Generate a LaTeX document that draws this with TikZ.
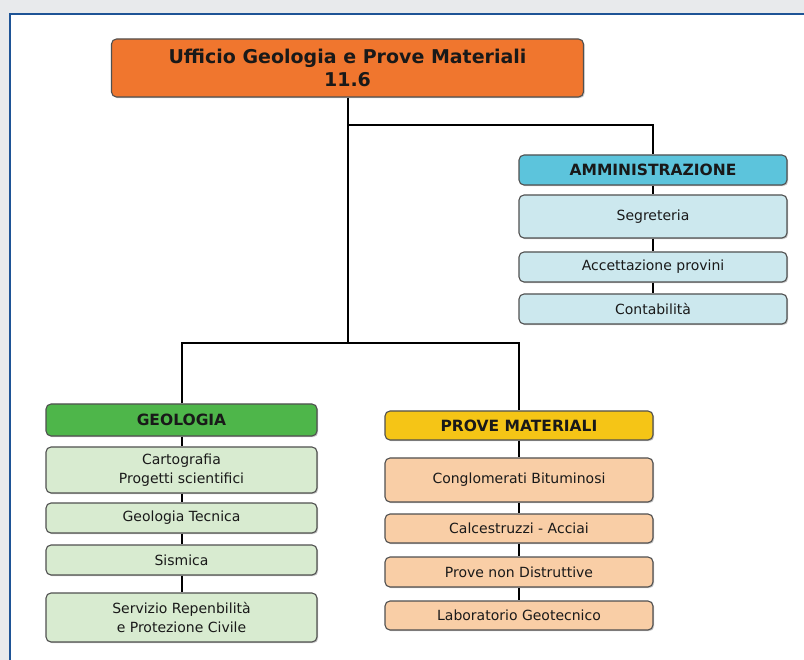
\documentclass[tikz,border=0pt]{standalone}
\usepackage{fontspec}
\setmainfont{DejaVu Sans}
\usetikzlibrary{shadows}

\definecolor{framebg}{RGB}{232,234,236}
\definecolor{frameblue}{RGB}{30,84,150}
\definecolor{uffcol}{RGB}{240,118,46}
\definecolor{ammcol}{RGB}{92,196,220}
\definecolor{ammsub}{RGB}{204,232,238}
\definecolor{geocol}{RGB}{78,182,74}
\definecolor{geosub}{RGB}{216,235,208}
\definecolor{provcol}{RGB}{245,197,22}
\definecolor{provsub}{RGB}{249,206,166}
\definecolor{boxline}{RGB}{80,80,80}

\begin{document}
\begin{tikzpicture}[x=1pt,y=1pt]
        \tikzstyle{every node}+=[inner sep=0pt]
        \tikzstyle{unitbox}=[rectangle, rounded corners=5pt, draw=boxline, line width=1.1pt,
          align=center, text=black!90, drop shadow={shadow xshift=1.2pt,shadow yshift=-1.2pt,fill=black!40}]
        \tikzstyle{headbox}=[unitbox, minimum width=268pt, minimum height=30pt,
          font=\fontsize{15.5}{18}\selectfont\bfseries]
        \tikzstyle{subbox}=[unitbox, minimum width=268pt, minimum height=30pt,
          font=\fontsize{14}{19}\selectfont]
        \tikzstyle{link}=[black, line width=2pt]
        % background and frame
        \useasboundingbox (0,0) rectangle (804,-660);
        \fill [framebg] (0,0) rectangle (804,-660);
        \fill [white] (10,-14) rectangle (804,-660);
        \draw [frameblue, line width=2.5pt] (10,-660) -- (10,-14) -- (804,-14);
        % top unit
        \node [unitbox, fill=uffcol, minimum width=472pt, minimum height=58pt,
          font=\fontsize{19}{23}\selectfont\bfseries] (uff) at (347.5,-68) {Ufficio Geologia e Prove Materiali\\11.6};
        % amministrazione
        \node [headbox, fill=ammcol] (amm) at (653,-170) {AMMINISTRAZIONE};
        \node [subbox, fill=ammsub, minimum height=43pt] (segr) at (653,-216.5) {Segreteria};
        \node [subbox, fill=ammsub] (acc) at (653,-267) {Accettazione provini};
        \node [subbox, fill=ammsub] (cont) at (653,-309) {Contabilità};
        % geologia
        \node [headbox, fill=geocol, minimum width=271pt, minimum height=32pt] (geo) at (181.5,-420) {GEOLOGIA};
        \node [subbox, fill=geosub, minimum width=271pt, minimum height=46pt] (carto) at (181.5,-470) {Cartografia\\Progetti scientifici};
        \node [subbox, fill=geosub, minimum width=271pt] (tecn) at (181.5,-518) {Geologia Tecnica};
        \node [subbox, fill=geosub, minimum width=271pt] (sism) at (181.5,-560) {Sismica};
        \node [subbox, fill=geosub, minimum width=271pt, minimum height=49pt] (serv) at (181.5,-617.5) {Servizio Repenbilità\\e Protezione Civile};
        % prove materiali
        \node [headbox, fill=provcol, minimum height=29pt] (prov) at (519,-425.5) {PROVE MATERIALI};
        \node [subbox, fill=provsub, minimum height=44pt] (cong) at (519,-480) {Conglomerati Bituminosi};
        \node [subbox, fill=provsub, minimum height=29pt] (calc) at (519,-528.5) {Calcestruzzi - Acciai};
        \node [subbox, fill=provsub] (pnd) at (519,-572) {Prove non Distruttive};
        \node [subbox, fill=provsub, minimum height=29pt] (labo) at (519,-615.5) {Laboratorio Geotecnico};
        % connectors
        \coordinate (ammjoin) at (347.5,-125);
        \coordinate (fork) at (347.5,-343);
        \draw [link] (uff.south) -- (fork);
        \draw [link] (ammjoin) -| (amm.north);
        \draw [link] (geo.north) |- (fork) -| (prov.north);
        \foreach \a/\b in {amm/segr,segr/acc,acc/cont,geo/carto,carto/tecn,tecn/sism,sism/serv,prov/cong,cong/calc,calc/pnd,pnd/labo}
          \draw [link] (\a.south) -- (\b.north);
      \end{tikzpicture}
\end{document}
